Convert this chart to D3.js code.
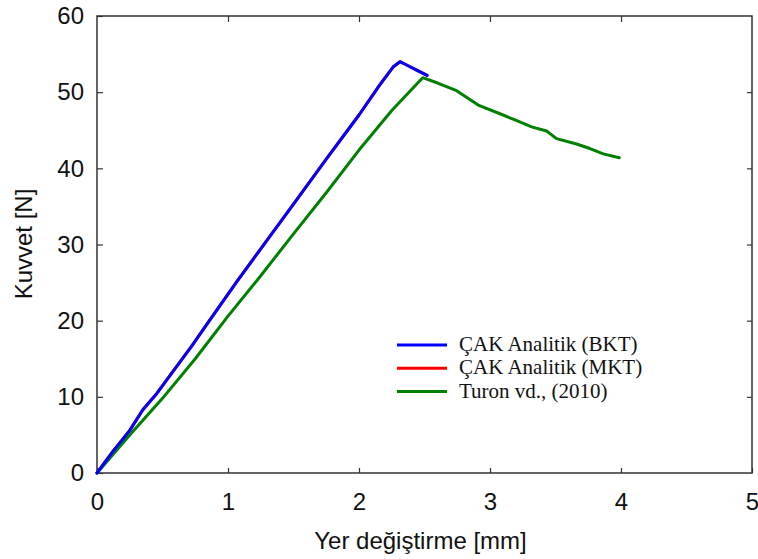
<!DOCTYPE html>
<html>
<head>
<meta charset="utf-8">
<script src="https://cdn.jsdelivr.net/npm/d3@7"></script>
<style>
  body { margin: 0; background: #fff; }
  svg text { font-family: "Liberation Sans", Arial, sans-serif; }
</style>
</head>
<body>
<div id="chart"></div>
<script>
// ÇAK Analitik (BKT)
var bktX = [0, 0.12, 0.25, 0.35, 0.45, 0.6, 0.72, 0.85, 1.07, 1.3, 1.5, 1.75, 2.0, 2.16, 2.26, 2.313, 2.36, 2.44, 2.52];
var bktY = [0, 2.8, 5.6, 8.3, 10.3, 13.8, 16.6, 19.8, 25.2, 30.6, 35.3, 41.2, 47.0, 51.0, 53.3, 54.0, 53.6, 52.9, 52.2];
// ÇAK Analitik (MKT) - çizgi BKT ile çakışıyor
var mktX = bktX.slice();
var mktY = bktY.slice();
// Turon vd., (2010)
var turonX = [0, 0.25, 0.5, 0.75, 1.0, 1.25, 1.5, 1.75, 2.0, 2.25, 2.486, 2.6, 2.745, 2.91, 3.10, 3.2, 3.318, 3.432, 3.508, 3.66, 3.763, 3.865, 3.987];
var turonY = [0, 5.0, 9.8, 15.0, 20.6, 25.9, 31.4, 36.8, 42.4, 47.6, 51.9, 51.2, 50.2, 48.3, 47.0, 46.3, 45.45, 44.9, 43.9, 43.2, 42.6, 41.9, 41.4];

var xTicks = [0, 1, 2, 3, 4, 5];
var yTicks = [0, 10, 20, 30, 40, 50, 60];

var seriesNames = ["ÇAK Analitik (BKT)", "ÇAK Analitik (MKT)", "Turon vd., (2010)"];
var seriesColors = ["#0000ff", "#ff0000", "#008000"];

var width = 758, height = 559;
var margin = { top: 16, right: 6, bottom: 86, left: 97 };
var w = width - margin.left - margin.right,
    h = height - margin.top - margin.bottom;

var svg = d3.select("#chart").append("svg")
    .attr("width", width)
    .attr("height", height);

var g = svg.append("g")
    .attr("transform", "translate(" + margin.left + "," + margin.top + ")");

var x = d3.scaleLinear().domain([0, 5]).range([0, w]);
var y = d3.scaleLinear().domain([0, 60]).range([h, 0]);

// axes (ticks pointing inside)
var xAxis = g.append("g")
    .attr("transform", "translate(0," + h + ")")
    .call(d3.axisBottom(x).tickValues(xTicks).tickSize(-5).tickPadding(20).tickFormat(d3.format("d")));
var xTop = g.append("g")
    .call(d3.axisTop(x).tickValues(xTicks.slice(1, 5)).tickSize(-6).tickFormat(""));
var yAxis = g.append("g")
    .call(d3.axisLeft(y).tickValues(yTicks).tickSize(-6).tickPadding(13).tickFormat(d3.format("d")));
var yRight = g.append("g")
    .attr("transform", "translate(" + w + ",0)")
    .call(d3.axisRight(y).tickValues(yTicks.slice(1, 6)).tickSize(-5).tickFormat(""));

[xAxis, xTop, yAxis, yRight].forEach(function (a) {
    a.select(".domain").remove();
    a.selectAll(".tick line").attr("stroke", "#333").attr("stroke-width", 1.2);
    a.selectAll(".tick text").attr("fill", "#111").style("font-size", "24px");
});

// frame
g.append("rect")
    .attr("x", 0).attr("y", 0)
    .attr("width", w).attr("height", h)
    .attr("fill", "none")
    .attr("stroke", "#333")
    .attr("stroke-width", 1.5);

var line = d3.line()
    .x(function (d) { return x(d[0]); })
    .y(function (d) { return y(d[1]); });

function pts(xs, ys) {
    return xs.map(function (v, i) { return [v, ys[i]]; });
}

var data = [pts(mktX, mktY), pts(turonX, turonY), pts(bktX, bktY)];
var colors = [seriesColors[1], seriesColors[2], seriesColors[0]];

data.forEach(function (d, i) {
    g.append("path")
        .datum(d)
        .attr("d", line)
        .attr("fill", "none")
        .attr("stroke", colors[i])
        .attr("stroke-width", 3)
        .attr("stroke-linejoin", "round")
        .attr("stroke-linecap", "round");
});

// legend
var legend = g.append("g")
    .attr("transform", "translate(300,329)");

seriesNames.forEach(function (name, i) {
    legend.append("line")
        .attr("x1", 0).attr("x2", 50)
        .attr("y1", i * 23.3).attr("y2", i * 23.3)
        .attr("stroke", seriesColors[i])
        .attr("stroke-width", 3);
    legend.append("text")
        .attr("x", 62)
        .attr("y", i * 23.3 + 6)
        .text(name)
        .style("font-family", "'Liberation Serif', 'Times New Roman', serif")
        .style("font-size", "21px")
        .attr("fill", "#111");
});

// axis titles
svg.append("text")
    .attr("x", margin.left + w / 2 - 4)
    .attr("y", 549)
    .attr("text-anchor", "middle")
    .style("font-size", "24px")
    .attr("fill", "#111")
    .text("Yer değiştirme [mm]");

svg.append("text")
    .attr("transform", "translate(32,244) rotate(-90)")
    .attr("text-anchor", "middle")
    .style("font-size", "24px")
    .attr("fill", "#111")
    .text("Kuvvet [N]");
</script>
</body>
</html>
